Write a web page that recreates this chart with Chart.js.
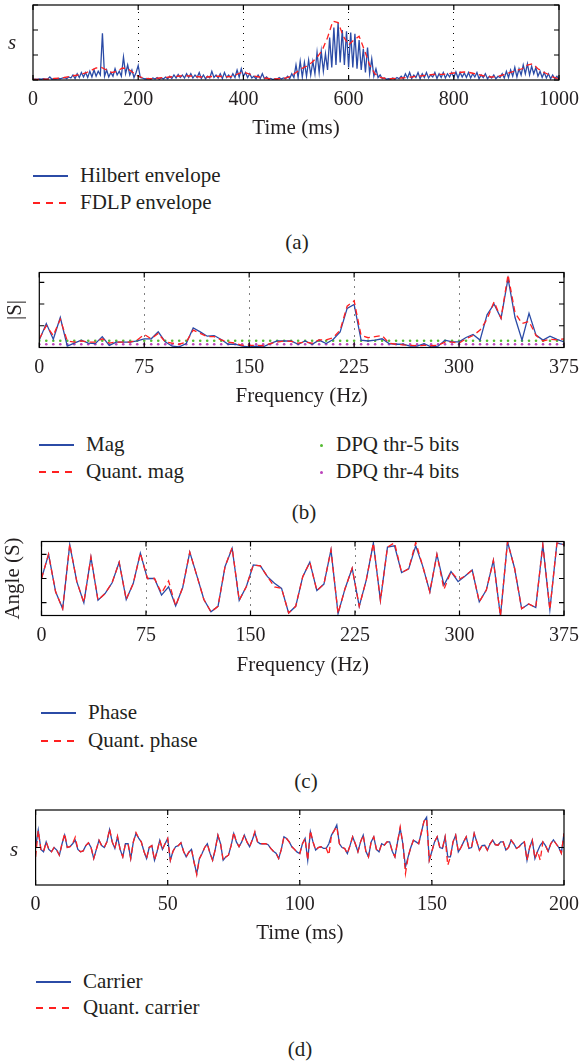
<!DOCTYPE html>
<html lang="en">
<head>
<meta charset="UTF-8">
<title>FDLP envelope, magnitude, phase and carrier</title>
<script src="https://cdn.jsdelivr.net/npm/chart.js"></script>
<style>
  body { margin: 0; background: #fff; }
  #page { position: relative; width: 587px; height: 1063px; font-family: "Liberation Serif", "Times New Roman", serif; color: #231f20; }
  canvas { position: absolute; left: 0; }
  .txt { position: absolute; font-size: 21px; line-height: 24px; white-space: nowrap; }
  .cap { position: absolute; width: 100px; text-align: center; font-size: 21px; line-height: 24px; }
  .solid { position: absolute; height: 1.5px; background: #2b4ba6; }
  .dash { position: absolute; height: 1.5px; background: repeating-linear-gradient(to right, #ff2020 0 7px, transparent 7px 13px); }
  .dot { position: absolute; width: 3px; height: 3px; border-radius: 50%; }
</style>
</head>
<body>
<div id="page">
  <canvas id="envChart" width="587" height="141" style="top:0px"></canvas>
  <canvas id="magChart" width="587" height="147" style="top:262px"></canvas>
  <canvas id="phaseChart" width="587" height="148" style="top:530px"></canvas>
  <canvas id="carrierChart" width="587" height="146" style="top:800px"></canvas>

  <div class="txt" style="left:8px;top:30px;font-style:italic">s</div>
  <div class="txt" style="left:10px;top:837px;font-style:italic">s</div>

  <div class="solid" style="left:33px;top:175px;width:35px"></div>
  <div class="txt" style="left:80px;top:163px">Hilbert envelope</div>
  <div class="dash" style="left:33px;top:202px;width:35px"></div>
  <div class="txt" style="left:80px;top:190px">FDLP envelope</div>
  <div class="cap" style="left:247px;top:230px">(a)</div>

  <div class="solid" style="left:39px;top:444px;width:35px"></div>
  <div class="txt" style="left:86px;top:432px">Mag</div>
  <div class="dash" style="left:39px;top:471px;width:35px"></div>
  <div class="txt" style="left:86px;top:459px">Quant. mag</div>
  <div class="dot" style="left:320px;top:444px;background:#55bb33"></div>
  <div class="txt" style="left:336px;top:432px">DPQ thr-5 bits</div>
  <div class="dot" style="left:320px;top:471px;background:#bb44bb"></div>
  <div class="txt" style="left:336px;top:459px">DPQ thr-4 bits</div>
  <div class="cap" style="left:254px;top:500px">(b)</div>

  <div class="solid" style="left:41px;top:712px;width:35px"></div>
  <div class="txt" style="left:88px;top:700px">Phase</div>
  <div class="dash" style="left:41px;top:740px;width:35px"></div>
  <div class="txt" style="left:88px;top:728px">Quant. phase</div>
  <div class="cap" style="left:256px;top:769px">(c)</div>

  <div class="solid" style="left:36px;top:981px;width:35px"></div>
  <div class="txt" style="left:83px;top:969px">Carrier</div>
  <div class="dash" style="left:36px;top:1007px;width:35px"></div>
  <div class="txt" style="left:83px;top:995px">Quant. carrier</div>
  <div class="cap" style="left:250px;top:1037px">(d)</div>
</div>
<script>
// (a) envelopes over one second
const hilbertStepMs = 4;
const hilbertEnv = [
  0.02,0.03,0.02,0.04,0.03,0.05,0.03,0.04,0.12,0.03,0.05,0.04,0.06,0.05,0.08,0.1,0.05,0.12,0.08,0.2,0.06,0.25,0.1,0.3,0.12,
  0.3,0.1,0.35,0.12,0.4,0.15,0.35,0.2,1.87,0.15,0.4,0.12,0.3,0.15,0.45,0.2,0.35,0.15,0.92,0.25,0.6,0.2,0.4,0.1,0.3,
  0.58,0.1,0.08,0.05,0.04,0.06,0.03,0.08,0.04,0.1,0.03,0.08,0.04,0.12,0.05,0.15,0.06,0.2,0.08,0.22,0.1,0.2,0.08,0.25,0.1,
  0.25,0.08,0.2,0.1,0.3,0.06,0.2,0.05,0.15,0.08,0.35,0.1,0.2,0.08,0.25,0.06,0.3,0.1,0.2,0.08,0.25,0.1,0.4,0.12,0.45,
  0.15,0.3,0.1,0.25,0.08,0.15,0.05,0.2,0.06,0.25,0.05,0.12,0.03,0.06,0.02,0.05,0.03,0.1,0.04,0.08,0.05,0.15,0.06,0.25,0.1,
  0.6,0.1,0.75,0.12,0.7,0.15,0.8,0.2,0.75,0.25,1.1,0.3,1.15,0.35,1.05,0.4,1.7,0.5,2.1,0.6,2.3,0.7,2.0,0.6,1.95,
  0.5,1.9,0.5,1.85,0.45,1.6,0.4,1.25,0.3,1.3,0.25,0.85,0.15,0.45,0.1,0.2,0.05,0.08,0.03,0.05,0.04,0.08,0.03,0.1,0.05,
  0.15,0.05,0.25,0.08,0.3,0.06,0.2,0.1,0.3,0.05,0.25,0.1,0.3,0.08,0.2,0.12,0.3,0.06,0.25,0.1,0.3,0.08,0.25,0.12,0.3,
  0.1,0.32,0.08,0.3,0.12,0.28,0.1,0.3,0.08,0.25,0.12,0.3,0.05,0.2,0.1,0.25,0.05,0.15,0.08,0.2,0.05,0.15,0.1,0.25,0.08,
  0.35,0.1,0.4,0.15,0.5,0.12,0.45,0.2,0.6,0.25,0.65,0.2,0.55,0.25,0.5,0.15,0.35,0.1,0.3,0.08,0.25,0.05,0.2,0.05,0.15,
  0.02
];
const fdlpStepMs = 10;
const fdlpEnv = [
  0.02,0.02,0.03,0.04,0.06,0.08,0.1,0.14,0.18,0.22,
  0.28,0.38,0.48,0.5,0.4,0.3,0.35,0.48,0.45,0.3,
  0.15,0.08,0.05,0.06,0.08,0.1,0.12,0.14,0.16,0.17,
  0.16,0.14,0.12,0.12,0.14,0.15,0.14,0.13,0.15,0.25,
  0.32,0.25,0.16,0.12,0.08,0.05,0.04,0.05,0.08,0.15,
  0.3,0.45,0.55,0.7,0.9,1.2,1.7,2.35,2.3,1.75,
  1.4,1.6,1.75,1.2,0.6,0.25,0.1,0.06,0.05,0.06,
  0.08,0.1,0.12,0.15,0.17,0.2,0.22,0.22,0.23,0.25,
  0.28,0.3,0.32,0.3,0.25,0.2,0.15,0.12,0.13,0.18,
  0.25,0.32,0.38,0.45,0.6,0.65,0.45,0.32,0.22,0.1,
  0.04
];
const envTicks = [0, 200, 400, 600, 800, 1000];

// (b) magnitude spectrum and quantisation thresholds
const magStepHz = 5;
const mag = [
  0.34,1.1,0.38,1.38,0.06,0.2,0.34,0.2,0.18,0.5,
  0.1,0.25,0.25,0.25,0.3,0.4,0.4,0.72,0.26,0.06,
  0.03,0.18,0.9,0.72,0.52,0.55,0.37,0.15,0.15,0.06,
  0.03,0.06,0.03,0.18,0.3,0.3,0.3,0.15,0.3,0.15,
  0.34,0.18,0.37,0.72,1.8,1.98,0.34,0.3,0.34,0.4,
  0.18,0.15,0.15,0.06,0.06,0.18,0.03,0.06,0.34,0.26,
  0.26,0.46,0.6,0.34,1.5,2.0,1.34,3.18,1.38,0.34,
  1.57,0.57,0.34,0.52,0.37,0.26
];
const quantMag = [
  0.4,1.0,0.55,1.3,0.3,0.25,0.3,0.25,0.25,0.4,
  0.2,0.25,0.25,0.25,0.35,0.6,0.4,0.65,0.25,0.2,
  0.15,0.25,0.8,0.65,0.5,0.5,0.35,0.25,0.2,0.1,
  0.1,0.1,0.08,0.18,0.25,0.3,0.28,0.2,0.25,0.2,
  0.35,0.35,0.45,0.8,1.9,2.15,0.55,0.45,0.5,0.55,
  0.2,0.15,0.12,0.1,0.08,0.1,0.08,0.1,0.25,0.25,
  0.2,0.4,0.55,0.8,1.3,2.1,1.35,3.35,1.6,1.1,
  1.2,0.55,0.3,0.38,0.35,0.4
];
const thr5Level = 0.31;
const thr4Level = 0.15;
const freqTicks = [0, 75, 150, 225, 300, 375];

// (c) phase spectrum
const phaseStepHz = 375 / 74;
const phase = [
  0.0,2.0,-1.1,-2.5,2.8,-0.26,-2.0,1.76,-1.8,-1.24,
  -0.35,1.35,-1.74,-0.4,2.1,0.0,0.0,-1.37,-0.68,-2.26,
  -0.74,2.18,0.24,-1.74,-2.76,-2.3,1.0,2.5,-1.8,-0.68,
  1.12,1.04,0.15,-0.4,-0.82,-2.85,-2.3,0.15,1.35,-1.0,
  -0.46,2.37,-2.9,-0.82,0.85,-2.3,-0.12,2.93,-1.8,2.6,
  2.7,0.49,0.8,2.7,1.0,-1.1,2.0,-0.54,0.57,-0.26,
  0.2,0.7,-1.93,-0.96,1.5,-3.1,3.05,0.85,-2.5,-2.1,
  -2.4,2.8,-2.57,2.93,2.8
];
const quantPhase = [
  0.0,2.0,-1.1,-2.5,2.85,-0.26,-2.0,1.76,-1.8,-1.24,
  -0.35,1.35,-1.74,-0.4,2.1,0.0,0.0,-1.2,-0.2,-2.26,
  -0.74,2.18,0.24,-1.74,-2.76,-2.3,1.0,2.55,-1.8,-0.68,
  1.12,1.04,0.15,-0.7,-0.82,-2.85,-2.3,0.15,1.35,-1.0,
  -0.46,2.37,-2.9,-0.82,0.85,-2.3,-0.12,2.93,-1.8,2.6,
  2.95,0.49,0.8,3.0,1.0,-1.1,2.0,-0.9,0.57,-0.1,
  0.2,0.7,-1.93,-0.96,1.5,-3.1,3.05,0.85,-2.5,-2.1,
  -2.4,2.8,-2.57,2.93,2.8
];

// (d) carrier, first 200 ms
const carrierStepMs = 1;
const carrier = [
  0.0,0.93,-0.1,-0.23,0.3,-0.1,-0.23,0.0,-0.14,-0.41,0.2,0.66,0.0,0.04,0.2,0.39,-0.1,-0.23,-0.18,0.1,
  0.25,0.0,-0.59,-0.1,0.39,0.1,0.0,0.3,0.96,0.3,-0.05,0.57,-0.1,-0.5,0.2,0.2,-0.59,0.3,0.75,0.5,
  0.3,-0.2,-0.59,0.0,0.1,-0.68,-0.2,0.39,-0.1,0.2,0.48,-0.68,-0.2,0.04,0.1,0.25,-0.2,-0.5,-0.25,-0.1,
  -0.8,-1.39,-0.6,-0.32,0.0,0.2,-0.3,-0.68,-0.1,0.66,0.2,-0.68,-0.5,-0.41,0.1,0.75,0.3,0.04,0.3,0.66,
  0.3,0.04,0.4,0.79,0.3,0.2,0.2,0.2,0.15,-0.05,-0.2,-0.3,-0.59,-0.1,0.57,0.48,0.3,0.04,-0.1,-0.25,
  -0.32,0.2,0.48,-0.68,0.84,0.3,-0.14,0.0,0.04,-0.05,-0.05,0.2,0.66,0.9,1.2,0.2,0.0,-0.05,-0.32,0.1,
  0.57,0.2,-0.23,0.3,0.66,-0.2,-0.5,0.3,0.57,-0.1,-0.23,0.2,0.12,0.3,0.3,-0.2,-0.5,0.3,1.02,0.2,
  -1.04,-0.5,0.0,0.39,0.3,0.2,0.8,1.4,1.61,-0.68,-0.2,0.3,0.57,0.0,-0.05,0.57,-0.5,-0.5,0.3,0.66,
  -0.23,0.0,0.3,0.57,-0.05,0.0,0.75,0.3,-0.14,0.1,0.12,-0.14,0.2,0.39,0.15,0.12,0.3,0.3,-0.14,0.0,
  0.39,0.2,-0.05,0.04,0.2,0.3,-0.68,0.0,0.39,-0.59,-0.2,0.12,0.3,0.1,-0.2,0.2,0.4,0.2,0.0,-0.3,
  0.75
];
const quantCarrier = [
  -0.5,0.9,-0.1,-0.23,0.3,-0.1,-0.23,0.0,-0.14,-0.41,0.2,0.75,0.0,0.04,0.2,0.55,-0.1,-0.23,-0.18,0.1,
  0.25,0.0,-0.59,-0.1,0.39,0.1,0.0,0.3,1.0,0.3,-0.05,0.6,-0.1,-0.5,0.2,0.2,-0.59,0.3,0.8,0.5,
  0.3,-0.2,-0.59,0.0,0.1,-0.68,-0.2,0.39,-0.1,0.2,0.48,-0.68,-0.2,0.04,0.1,0.25,-0.2,-0.5,-0.25,-0.1,
  -0.8,-1.45,-0.6,-0.32,0.0,0.2,-0.3,-0.68,-0.1,0.66,0.2,-0.68,-0.5,-0.41,0.1,0.82,0.3,0.04,0.3,0.66,
  0.3,0.04,0.4,0.85,0.3,0.2,0.2,0.2,0.15,-0.05,-0.2,-0.3,-0.59,-0.1,0.57,0.48,0.3,0.04,-0.1,-0.25,
  -0.32,0.2,0.48,-0.68,0.9,0.3,-0.14,0.0,0.04,-0.05,-0.05,-0.4,0.66,0.9,1.1,0.2,0.0,-0.05,-0.32,0.1,
  0.57,0.2,-0.23,0.3,0.66,-0.2,-0.5,0.3,0.57,-0.1,-0.23,0.2,0.12,0.3,0.3,-0.2,-0.5,0.3,1.1,0.2,
  -1.39,-0.5,0.0,0.39,0.3,0.2,0.8,1.4,1.55,-0.68,-0.2,0.3,0.57,0.0,-0.05,0.57,-0.95,-0.5,0.3,0.66,
  -0.23,0.0,0.3,0.57,-0.05,0.0,0.75,0.3,-0.14,0.1,0.12,-0.14,0.2,0.39,0.15,0.12,0.3,0.3,-0.14,0.0,
  0.39,0.2,-0.05,0.04,0.2,0.3,-0.68,0.0,0.39,-0.59,-0.2,-0.68,0.3,0.1,-0.2,0.2,0.4,0.2,0.0,-0.3,
  0.75
];
const carrierTicks = [0, 50, 100, 150, 200];

const BLUE = '#2b4ba6';
const RED = '#ff2020';
const INK = '#231f20';
const SERIF = '"Liberation Serif", "Times New Roman", serif';

const toXY = (values, step) => values.map((v, i) => ({ x: i * step, y: v }));

function solidLine(values, step) {
  return { data: toXY(values, step), borderColor: BLUE, borderWidth: 1.3, pointRadius: 0, order: 2 };
}
function dashedLine(values, step) {
  return { data: toXY(values, step), borderColor: RED, borderWidth: 1.3, borderDash: [6, 4], pointRadius: 0, order: 1 };
}
function levelDots(level, count, step, color) {
  const values = [];
  for (let i = 0; i < count; i++) values.push(level);
  return { data: toXY(values, step), showLine: false, pointRadius: 1.3, pointBorderWidth: 0, pointBackgroundColor: color, order: 3 };
}

// box outline with inward ticks on all four sides
const frame = {
  id: 'frame',
  afterDatasetsDraw(chart) {
    const { ctx, chartArea: a, scales: { x, y } } = chart;
    const len = 5;
    ctx.save();
    ctx.strokeStyle = '#000';
    ctx.lineWidth = 1.2;
    ctx.beginPath();
    x.ticks.forEach(t => {
      const px = x.getPixelForValue(t.value);
      ctx.moveTo(px, a.bottom); ctx.lineTo(px, a.bottom - len);
      ctx.moveTo(px, a.top); ctx.lineTo(px, a.top + len);
    });
    y.ticks.forEach(t => {
      const py = y.getPixelForValue(t.value);
      ctx.moveTo(a.left, py); ctx.lineTo(a.left + len, py);
      ctx.moveTo(a.right, py); ctx.lineTo(a.right - len, py);
    });
    ctx.stroke();
    ctx.strokeRect(a.left, a.top, a.right - a.left, a.bottom - a.top);
    ctx.restore();
  }
};

function makePanel(id, p) {
  const canvas = document.getElementById(id);
  const xMin = p.xTicks[0], xMax = p.xTicks[p.xTicks.length - 1];
  return new Chart(canvas, {
    type: 'line',
    data: { datasets: p.datasets },
    options: {
      responsive: false,
      animation: false,
      devicePixelRatio: 1,
      layout: { padding: { top: p.box.top, right: 587 - p.box.right, left: 0, bottom: 0 } },
      plugins: { legend: { display: false }, tooltip: { enabled: false } },
      scales: {
        x: {
          type: 'linear', min: xMin, max: xMax,
          afterBuildTicks: ax => { ax.ticks = p.xTicks.map(v => ({ value: v })); },
          afterFit: ax => { ax.height = canvas.height - p.box.top - p.box.height; },
          grid: {
            drawTicks: false, lineWidth: 1,
            color: c => (c.tick && c.tick.value > xMin && c.tick.value < xMax) ? '#000' : 'rgba(0,0,0,0)'
          },
          border: { display: false, dash: [1, 6] },
          ticks: { padding: 8, color: INK, font: { family: SERIF, size: 20 }, maxRotation: 0, autoSkip: false, callback: v => String(v) },
          title: { display: true, text: p.xTitle, color: INK, font: { family: SERIF, size: 21 }, padding: 0 }
        },
        y: {
          type: 'linear', min: p.yMin, max: p.yMax,
          afterBuildTicks: ax => { ax.ticks = p.yTicks.map(v => ({ value: v })); },
          afterFit: ax => { ax.width = p.box.left; },
          grid: { display: false },
          border: { display: false },
          ticks: { display: false },
          title: p.yTitle
            ? { display: true, text: p.yTitle, color: INK, font: { family: SERIF, size: 21 }, padding: { top: p.yTitlePad, bottom: 0 } }
            : { display: false }
        }
      }
    },
    plugins: [frame]
  });
}

makePanel('envChart', {
  box: { left: 33, right: 562, top: 5, height: 75 },
  xTicks: envTicks, xTitle: 'Time (ms)',
  yMin: 0, yMax: 3, yTicks: [0, 1, 2, 3],
  datasets: [solidLine(hilbertEnv, hilbertStepMs), dashedLine(fdlpEnv, fdlpStepMs)]
});

makePanel('magChart', {
  box: { left: 39.3, right: 568.5, top: 10.5, height: 75 },
  xTicks: freqTicks, xTitle: 'Frequency (Hz)',
  yMin: 0, yMax: 3.45, yTicks: [0, 1, 2, 3],
  yTitle: '|S|', yTitlePad: 2.4,
  datasets: [
    solidLine(mag, magStepHz),
    dashedLine(quantMag, magStepHz),
    levelDots(thr5Level, mag.length, magStepHz, '#55bb33'),
    levelDots(thr4Level, mag.length, magStepHz, '#bb44bb')
  ]
});

makePanel('phaseChart', {
  box: { left: 41.5, right: 570, top: 11.5, height: 74 },
  xTicks: freqTicks, xTitle: 'Frequency (Hz)',
  yMin: -3.06, yMax: 3.06, yTicks: [-2, 0, 2],
  yTitle: 'Angle (S)', yTitlePad: 0.4,
  datasets: [solidLine(phase, phaseStepHz), dashedLine(quantPhase, phaseStepHz)]
});

makePanel('carrierChart', {
  box: { left: 35.6, right: 565.5, top: 10, height: 75 },
  xTicks: carrierTicks, xTitle: 'Time (ms)',
  yMin: -2, yMax: 2, yTicks: [0],
  datasets: [solidLine(carrier, carrierStepMs), dashedLine(quantCarrier, carrierStepMs)]
});
</script>
</body>
</html>
